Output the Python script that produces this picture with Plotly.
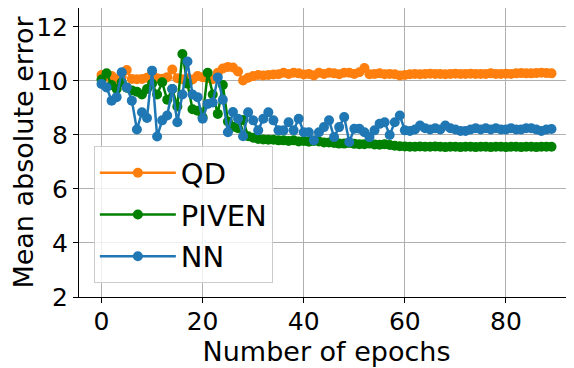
import plotly.graph_objects as go

epochs = list(range(90))

qd_mae = [
    10.22, 10.15, 10.18, 10.08, 10.15, 10.40, 10.07, 10.06, 10.07, 10.12,
    10.26, 10.10, 10.08, 10.14, 10.42, 10.10, 10.06, 10.10, 10.05, 10.18,
    10.14, 10.10, 10.06, 10.30, 10.46, 10.52, 10.50, 10.35, 10.02, 10.12,
    10.18, 10.22, 10.20, 10.22, 10.24, 10.25, 10.30, 10.26, 10.30, 10.28,
    10.24, 10.26, 10.20, 10.30, 10.26, 10.30, 10.28, 10.25, 10.30, 10.30,
    10.26, 10.32, 10.48, 10.25, 10.26, 10.28, 10.25, 10.26, 10.25, 10.20,
    10.22, 10.25, 10.26, 10.25, 10.26, 10.27, 10.26, 10.26, 10.25, 10.26,
    10.27, 10.26, 10.26, 10.27, 10.26, 10.26, 10.26, 10.28, 10.26, 10.26,
    10.27, 10.26, 10.28, 10.29, 10.28, 10.28, 10.29, 10.30, 10.29, 10.28,
]

piven_mae = [
    10.05, 10.28, 9.85, 9.70, 9.95, 9.75, 9.65, 9.60, 9.50, 9.70,
    9.90, 9.50, 9.95, 9.30, 9.70, 9.05, 11.00, 9.90, 8.95, 8.90,
    8.65, 10.30, 9.50, 8.78, 9.85, 8.50, 8.30, 8.25, 8.55, 7.95,
    7.90, 7.85, 7.83, 7.82, 7.82, 7.80, 7.80, 7.78, 7.80, 7.76,
    7.78, 7.75, 7.78, 7.76, 7.72, 7.72, 7.70, 7.68, 7.68, 7.70,
    7.67, 7.66, 7.66, 7.68, 7.65, 7.64, 7.66, 7.63, 7.60, 7.58,
    7.57, 7.56, 7.56, 7.57, 7.56, 7.56, 7.57, 7.56, 7.55, 7.56,
    7.56, 7.55, 7.56, 7.56, 7.55, 7.56, 7.56, 7.55, 7.56, 7.56,
    7.55, 7.56, 7.56, 7.55, 7.56, 7.56, 7.55, 7.56, 7.56, 7.56,
]

nn_mae = [
    9.89, 9.76, 9.27, 9.40, 10.32, 9.76, 9.27, 8.20, 8.84, 8.63,
    10.38, 7.94, 8.54, 8.72, 9.70, 8.47, 9.50, 10.72, 9.50, 9.40,
    8.60, 9.15, 9.20, 10.13, 9.30, 8.10, 8.85, 8.60, 7.95, 8.84,
    8.54, 8.17, 8.60, 8.84, 8.54, 8.17, 8.17, 8.47, 8.17, 8.60,
    8.10, 8.10, 7.80, 8.10, 8.29, 8.54, 7.92, 8.29, 8.66, 7.74,
    8.23, 8.23, 8.10, 7.92, 8.17, 8.41, 8.47, 8.00, 8.47, 8.72,
    8.17, 8.15, 8.20, 8.35, 8.25, 8.20, 8.25, 8.20, 8.35, 8.25,
    8.20, 8.15, 8.15, 8.20, 8.25, 8.20, 8.25, 8.20, 8.25, 8.20,
    8.20, 8.25, 8.20, 8.20, 8.25, 8.25, 8.20, 8.15, 8.20, 8.22,
]

series = [
    ("QD", qd_mae, "#ff7f0e"),
    ("PIVEN", piven_mae, "#008000"),
    ("NN", nn_mae, "#1f77b4"),
]

fig = go.Figure()

for name, values, color in series:
    fig.add_trace(
        go.Scatter(
            x=epochs,
            y=values,
            mode="lines+markers",
            name=name,
            legendgroup=name,
            line=dict(color=color, width=2.5),
            marker=dict(color=color, size=10),
        )
    )

axis_style = dict(
    showline=True,
    linecolor="black",
    linewidth=1,
    ticks="outside",
    ticklen=5,
    tickcolor="black",
    showgrid=True,
    gridcolor="#b0b0b0",
    gridwidth=1,
    zeroline=False,
    automargin=False,
    tickfont=dict(size=25, color="black"),
)

fig.update_xaxes(
    range=[-4.45, 93.45],
    tickvals=[0, 20, 40, 60, 80],
    ticklabelstandoff=-3,
    title=dict(text="Number of epochs", font=dict(size=27, color="black"), standoff=6),
    **axis_style,
)
# page has an 8px body margin, so the top of the axis sits 8px lower
fig.update_yaxes(
    range=[2, 12.70],
    tickvals=[2, 4, 6, 8, 10, 12],
    title=dict(text="Mean absolute error", font=dict(size=27, color="black"), standoff=8),
    **axis_style,
)

fig.update_layout(
    width=566,
    height=360,
    margin=dict(l=71, r=0, t=0, b=71),
    paper_bgcolor="white",
    plot_bgcolor="white",
    font=dict(family="DejaVu Sans", color="black"),
    legend=dict(
        x=0.03,
        y=0.047,
        xanchor="left",
        yanchor="bottom",
        bgcolor="rgba(255,255,255,0.8)",
        bordercolor="#cccccc",
        borderwidth=1,
        font=dict(size=29, color="black"),
        itemwidth=76,
        tracegroupgap=1,
    ),
)

fig.write_html("out.html")
